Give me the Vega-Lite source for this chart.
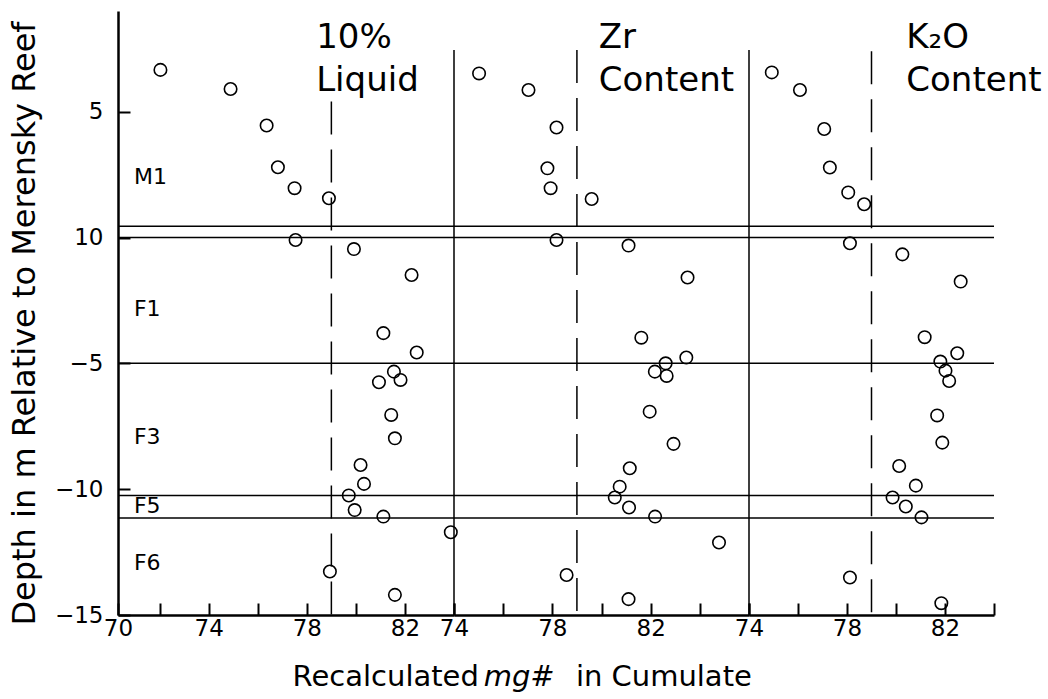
{
  "$schema": "https://vega.github.io/schema/vega-lite/v6.json",
  "background": "white",
  "padding": {"left": 8, "top": 11, "right": 0, "bottom": 0},
  "spacing": 0,
  "bounds": "flush",
  "config": {
    "view": {"stroke": null},
    "font": "DejaVu Sans",
    "text": {"font": "DejaVu Sans", "color": "black"},
    "axis": {
      "domainColor": "black", "domainWidth": 2.5, "tickColor": "black", "tickWidth": 2, "tickSize": -12,
      "labelColor": "black", "labelFont": "DejaVu Sans", "labelFontSize": 23, "grid": false,
      "labelFlush": false, "labelOverlap": false, "titleColor": "black", "titleFont": "DejaVu Sans",
      "titleFontWeight": "normal", "titleFontSize": 32
    },
    "axisX": {"labelPadding": 14},
    "axisY": {"labelPadding": 27}
  },
  "datasets": {
    "points": [
      {"panel": "p1", "mg": 72.03, "depth": 6.66}, {"panel": "p1", "mg": 74.89, "depth": 5.90}, {"panel": "p1", "mg": 76.36, "depth": 4.45},
      {"panel": "p1", "mg": 76.82, "depth": 2.79}, {"panel": "p1", "mg": 77.50, "depth": 1.96}, {"panel": "p1", "mg": 78.90, "depth": 1.56},
      {"panel": "p1", "mg": 77.54, "depth": -0.10}, {"panel": "p1", "mg": 79.92, "depth": -0.46}, {"panel": "p1", "mg": 82.27, "depth": -1.49},
      {"panel": "p1", "mg": 81.12, "depth": -3.80}, {"panel": "p1", "mg": 82.48, "depth": -4.57}, {"panel": "p1", "mg": 81.55, "depth": -5.33},
      {"panel": "p1", "mg": 81.82, "depth": -5.66}, {"panel": "p1", "mg": 80.94, "depth": -5.75}, {"panel": "p1", "mg": 81.44, "depth": -7.05},
      {"panel": "p1", "mg": 81.59, "depth": -7.98}, {"panel": "p1", "mg": 80.19, "depth": -9.04}, {"panel": "p1", "mg": 80.33, "depth": -9.79},
      {"panel": "p1", "mg": 79.71, "depth": -10.25}, {"panel": "p1", "mg": 79.95, "depth": -10.83}, {"panel": "p1", "mg": 81.12, "depth": -11.09},
      {"panel": "p1", "mg": 83.87, "depth": -11.71}, {"panel": "p1", "mg": 78.94, "depth": -13.27}, {"panel": "p1", "mg": 81.59, "depth": -14.20},
      {"panel": "p2", "mg": 75.02, "depth": 6.52}, {"panel": "p2", "mg": 77.03, "depth": 5.86}, {"panel": "p2", "mg": 78.17, "depth": 4.37},
      {"panel": "p2", "mg": 77.80, "depth": 2.75}, {"panel": "p2", "mg": 77.93, "depth": 1.96}, {"panel": "p2", "mg": 79.60, "depth": 1.53},
      {"panel": "p2", "mg": 78.17, "depth": -0.10}, {"panel": "p2", "mg": 81.10, "depth": -0.32}, {"panel": "p2", "mg": 83.50, "depth": -1.59},
      {"panel": "p2", "mg": 81.62, "depth": -3.98}, {"panel": "p2", "mg": 83.45, "depth": -4.77}, {"panel": "p2", "mg": 82.61, "depth": -5.00},
      {"panel": "p2", "mg": 82.17, "depth": -5.33}, {"panel": "p2", "mg": 82.65, "depth": -5.50}, {"panel": "p2", "mg": 81.96, "depth": -6.92},
      {"panel": "p2", "mg": 82.93, "depth": -8.20}, {"panel": "p2", "mg": 81.15, "depth": -9.17}, {"panel": "p2", "mg": 80.74, "depth": -9.90},
      {"panel": "p2", "mg": 80.54, "depth": -10.33}, {"panel": "p2", "mg": 81.12, "depth": -10.73}, {"panel": "p2", "mg": 82.18, "depth": -11.09},
      {"panel": "p2", "mg": 84.78, "depth": -12.12}, {"panel": "p2", "mg": 78.58, "depth": -13.41}, {"panel": "p2", "mg": 81.10, "depth": -14.37},
      {"panel": "p3", "mg": 74.93, "depth": 6.56}, {"panel": "p3", "mg": 76.08, "depth": 5.86}, {"panel": "p3", "mg": 77.07, "depth": 4.31},
      {"panel": "p3", "mg": 77.30, "depth": 2.78}, {"panel": "p3", "mg": 78.05, "depth": 1.79}, {"panel": "p3", "mg": 78.70, "depth": 1.32},
      {"panel": "p3", "mg": 78.12, "depth": -0.23}, {"panel": "p3", "mg": 80.26, "depth": -0.67}, {"panel": "p3", "mg": 82.64, "depth": -1.75},
      {"panel": "p3", "mg": 81.17, "depth": -3.96}, {"panel": "p3", "mg": 82.50, "depth": -4.60}, {"panel": "p3", "mg": 81.81, "depth": -4.93},
      {"panel": "p3", "mg": 82.02, "depth": -5.29}, {"panel": "p3", "mg": 82.17, "depth": -5.70}, {"panel": "p3", "mg": 81.68, "depth": -7.07},
      {"panel": "p3", "mg": 81.89, "depth": -8.15}, {"panel": "p3", "mg": 80.13, "depth": -9.08}, {"panel": "p3", "mg": 80.81, "depth": -9.86},
      {"panel": "p3", "mg": 79.86, "depth": -10.33}, {"panel": "p3", "mg": 80.40, "depth": -10.69}, {"panel": "p3", "mg": 81.04, "depth": -11.12},
      {"panel": "p3", "mg": 78.12, "depth": -13.51}, {"panel": "p3", "mg": 81.85, "depth": -14.53}
    ],
    "hlines": [{"depth": 0.45}, {"depth": 0}, {"depth": -5}, {"depth": -10.25}, {"depth": -11.15}],
    "vlines": [
      {"panel": "p1", "mg": 79, "top": 5.4, "bottom": -15, "kind": "dashed"},
      {"panel": "p2", "mg": 79, "top": 7.45, "bottom": -15, "kind": "dashed"},
      {"panel": "p3", "mg": 79, "top": 7.4, "bottom": -15, "kind": "dashed"},
      {"panel": "p2", "mg": 74, "top": 7.45, "bottom": -15, "kind": "solid"},
      {"panel": "p3", "mg": 74, "top": 7.45, "bottom": -15, "kind": "solid"}
    ],
    "labels": [
      {"panel": "p1", "mg": 70.95, "depth": 2.42, "text": "M1", "kind": "unit"},
      {"panel": "p1", "mg": 70.95, "depth": -2.84, "text": "F1", "kind": "unit"},
      {"panel": "p1", "mg": 70.95, "depth": -7.91, "text": "F3", "kind": "unit"},
      {"panel": "p1", "mg": 70.95, "depth": -10.68, "text": "F5", "kind": "unit"},
      {"panel": "p1", "mg": 70.95, "depth": -12.94, "text": "F6", "kind": "unit"},
      {"panel": "p1", "mg": 78.38, "depth": 7.52, "text": "10%", "kind": "title"},
      {"panel": "p1", "mg": 78.38, "depth": 5.82, "text": "Liquid", "kind": "title"},
      {"panel": "p2", "mg": 79.89, "depth": 7.52, "text": "Zr", "kind": "title"},
      {"panel": "p2", "mg": 79.89, "depth": 5.82, "text": "Content", "kind": "title"},
      {"panel": "p3", "mg": 80.42, "depth": 7.52, "text": "K₂O", "kind": "title"},
      {"panel": "p3", "mg": 80.42, "depth": 5.82, "text": "Content", "kind": "title"}
    ]
  },
  "hconcat": [
    {
      "width": 336, "height": 604,
      "layer": [
        {"data": {"name": "points"}, "transform": [{"filter": "datum.panel == 'p1'"}],
         "mark": {"type": "point", "shape": "circle", "filled": false, "color": "black", "strokeWidth": 1.6, "size": 155, "opacity": 1},
         "encoding": {
           "x": {"field": "mg", "type": "quantitative", "scale": {"domain": [70.3, 84], "nice": false, "zero": false},
                 "axis": {"values": [70.3, 72, 74, 76, 78, 80, 82, 84], "title": null,
                          "labelExpr": "datum.value < 71 ? '70' : (datum.value % 4 == 2 && datum.value < 85 ? datum.label : '')"}},
           "y": {"field": "depth", "type": "quantitative", "scale": {"domain": [-15, 9], "nice": false, "zero": false},
                 "axis": {"values": [5, 0, -5, -10, -15], "labelExpr": "datum.value == 0 ? '10' : datum.label",
                          "title": "Depth in m Relative to Merensky Reef", "titleX": -84, "titleY": 312, "titleAngle": -90,
                          "titleBaseline": "alphabetic", "titleAlign": "center"}}}},
        {"data": {"name": "hlines"}, "mark": {"type": "rule", "color": "black", "strokeWidth": 1.5},
         "encoding": {"y": {"field": "depth", "type": "quantitative", "scale": {"domain": [-15, 9], "nice": false, "zero": false}}}},
        {"data": {"name": "vlines"}, "transform": [{"filter": "datum.panel == 'p1' && datum.kind == 'dashed'"}],
         "mark": {"type": "rule", "color": "black", "strokeWidth": 1.5, "strokeDash": [33, 15]},
         "encoding": {"x": {"field": "mg", "type": "quantitative", "scale": {"domain": [70.3, 84], "nice": false, "zero": false}},
                      "y": {"field": "top", "type": "quantitative", "scale": {"domain": [-15, 9], "nice": false, "zero": false}},
                      "y2": {"field": "bottom"}}},
        {"data": {"name": "labels"}, "transform": [{"filter": "datum.panel == 'p1' && datum.kind == 'unit'"}],
         "mark": {"type": "text", "align": "left", "baseline": "middle", "fontSize": 22, "color": "black"},
         "encoding": {"x": {"field": "mg", "type": "quantitative", "scale": {"domain": [70.3, 84], "nice": false, "zero": false}},
                      "y": {"field": "depth", "type": "quantitative", "scale": {"domain": [-15, 9], "nice": false, "zero": false}},
                      "text": {"field": "text"}}},
        {"data": {"name": "labels"}, "transform": [{"filter": "datum.panel == 'p1' && datum.kind == 'title'"}],
         "mark": {"type": "text", "align": "left", "baseline": "alphabetic", "fontSize": 34, "color": "black"},
         "encoding": {"x": {"field": "mg", "type": "quantitative", "scale": {"domain": [70.3, 84], "nice": false, "zero": false}},
                      "y": {"field": "depth", "type": "quantitative", "scale": {"domain": [-15, 9], "nice": false, "zero": false}},
                      "text": {"field": "text"}}},
        {"data": {"values": [{}]},
         "mark": {"type": "text", "align": "left", "baseline": "alphabetic", "fontSize": 29, "color": "black"},
         "encoding": {"x": {"datum": 77.42, "type": "quantitative", "scale": {"domain": [70.3, 84], "nice": false, "zero": false}},
                      "y": {"datum": -17.83, "type": "quantitative", "scale": {"domain": [-15, 9], "nice": false, "zero": false}},
                      "text": {"value": "Recalculated"}}},
        {"data": {"values": [{}]},
         "mark": {"type": "text", "align": "left", "baseline": "alphabetic", "fontSize": 29, "fontStyle": "italic", "color": "black"},
         "encoding": {"x": {"datum": 85.21, "type": "quantitative", "scale": {"domain": [70.3, 84], "nice": false, "zero": false}},
                      "y": {"datum": -17.83, "type": "quantitative", "scale": {"domain": [-15, 9], "nice": false, "zero": false}},
                      "text": {"value": "mg#"}}},
        {"data": {"values": [{}]},
         "mark": {"type": "text", "align": "left", "baseline": "alphabetic", "fontSize": 29, "color": "black"},
         "encoding": {"x": {"datum": 88.97, "type": "quantitative", "scale": {"domain": [70.3, 84], "nice": false, "zero": false}},
                      "y": {"datum": -17.83, "type": "quantitative", "scale": {"domain": [-15, 9], "nice": false, "zero": false}},
                      "text": {"value": "in Cumulate"}}}
      ]
    },
    {
      "width": 295, "height": 604,
      "layer": [
        {"data": {"name": "points"}, "transform": [{"filter": "datum.panel == 'p2'"}],
         "mark": {"type": "point", "shape": "circle", "filled": false, "color": "black", "strokeWidth": 1.6, "size": 155, "opacity": 1},
         "encoding": {
           "x": {"field": "mg", "type": "quantitative", "scale": {"domain": [74, 86], "nice": false, "zero": false},
                 "axis": {"values": [74, 76, 78, 80, 82, 84, 86], "title": null,
                          "labelExpr": "datum.value % 4 == 2 && datum.value < 85 ? datum.label : ''"}},
           "y": {"field": "depth", "type": "quantitative", "scale": {"domain": [-15, 9], "nice": false, "zero": false}, "axis": null}}},
        {"data": {"name": "hlines"}, "mark": {"type": "rule", "color": "black", "strokeWidth": 1.5},
         "encoding": {"y": {"field": "depth", "type": "quantitative", "scale": {"domain": [-15, 9], "nice": false, "zero": false}, "axis": null}}},
        {"data": {"name": "vlines"}, "transform": [{"filter": "datum.panel == 'p2'"}],
         "mark": {"type": "rule", "color": "black", "strokeWidth": 1.5},
         "encoding": {"x": {"field": "mg", "type": "quantitative", "scale": {"domain": [74, 86], "nice": false, "zero": false}},
                      "y": {"field": "top", "type": "quantitative", "scale": {"domain": [-15, 9], "nice": false, "zero": false}, "axis": null},
                      "y2": {"field": "bottom"},
                      "strokeDash": {"field": "kind", "type": "nominal", "scale": {"domain": ["dashed", "solid"], "range": [[33, 15], [1, 0]]}, "legend": null}}},
        {"data": {"name": "labels"}, "transform": [{"filter": "datum.panel == 'p2' && datum.kind == 'title'"}],
         "mark": {"type": "text", "align": "left", "baseline": "alphabetic", "fontSize": 34, "color": "black"},
         "encoding": {"x": {"field": "mg", "type": "quantitative", "scale": {"domain": [74, 86], "nice": false, "zero": false}},
                      "y": {"field": "depth", "type": "quantitative", "scale": {"domain": [-15, 9], "nice": false, "zero": false}, "axis": null},
                      "text": {"field": "text"}}}
      ]
    },
    {
      "width": 245, "height": 604,
      "layer": [
        {"data": {"name": "points"}, "transform": [{"filter": "datum.panel == 'p3'"}],
         "mark": {"type": "point", "shape": "circle", "filled": false, "color": "black", "strokeWidth": 1.6, "size": 155, "opacity": 1},
         "encoding": {
           "x": {"field": "mg", "type": "quantitative", "scale": {"domain": [74, 84], "nice": false, "zero": false},
                 "axis": {"values": [74, 76, 78, 80, 82, 84], "title": null,
                          "labelExpr": "datum.value % 4 == 2 && datum.value < 85 ? datum.label : ''"}},
           "y": {"field": "depth", "type": "quantitative", "scale": {"domain": [-15, 9], "nice": false, "zero": false}, "axis": null}}},
        {"data": {"name": "hlines"}, "mark": {"type": "rule", "color": "black", "strokeWidth": 1.5},
         "encoding": {"y": {"field": "depth", "type": "quantitative", "scale": {"domain": [-15, 9], "nice": false, "zero": false}, "axis": null}}},
        {"data": {"name": "vlines"}, "transform": [{"filter": "datum.panel == 'p3'"}],
         "mark": {"type": "rule", "color": "black", "strokeWidth": 1.5},
         "encoding": {"x": {"field": "mg", "type": "quantitative", "scale": {"domain": [74, 84], "nice": false, "zero": false}},
                      "y": {"field": "top", "type": "quantitative", "scale": {"domain": [-15, 9], "nice": false, "zero": false}, "axis": null},
                      "y2": {"field": "bottom"},
                      "strokeDash": {"field": "kind", "type": "nominal", "scale": {"domain": ["dashed", "solid"], "range": [[33, 15], [1, 0]]}, "legend": null}}},
        {"data": {"name": "labels"}, "transform": [{"filter": "datum.panel == 'p3' && datum.kind == 'title'"}],
         "mark": {"type": "text", "align": "left", "baseline": "alphabetic", "fontSize": 34, "color": "black"},
         "encoding": {"x": {"field": "mg", "type": "quantitative", "scale": {"domain": [74, 84], "nice": false, "zero": false}},
                      "y": {"field": "depth", "type": "quantitative", "scale": {"domain": [-15, 9], "nice": false, "zero": false}, "axis": null},
                      "text": {"field": "text"}}}
      ]
    }
  ]
}
